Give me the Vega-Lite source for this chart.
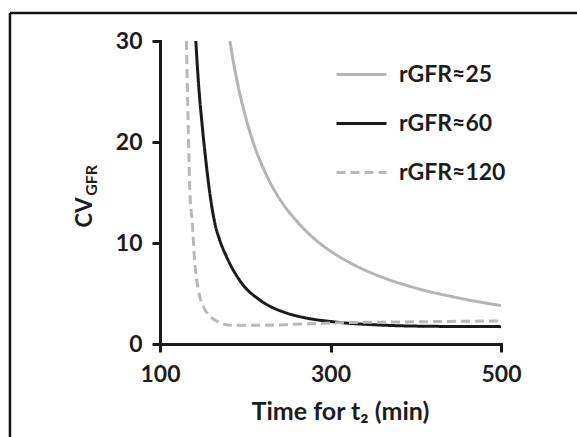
{
  "$schema": "https://vega.github.io/schema/vega-lite/v6.json",
  "width": 341,
  "height": 303,
  "autosize": {"type": "none"},
  "padding": {"left": 160, "top": 41, "right": 76, "bottom": 93},
  "background": "white",
  "config": {
    "view": {"stroke": null},
    "font": "Lato",
    "axis": {
      "grid": false,
      "domainColor": "#1a1a1a",
      "domainWidth": 3,
      "domainCap": "square",
      "tickColor": "#1a1a1a",
      "tickWidth": 3,
      "tickSize": 8,
      "labelFlush": false,
      "labelFont": "Lato",
      "labelFontWeight": "bold",
      "labelFontSize": 23,
      "labelColor": "#1d1d1d",
      "titleFont": "Lato",
      "titleFontWeight": "bold",
      "titleFontSize": 25,
      "titleColor": "#1d1d1d"
    },
    "legend": {
      "labelFont": "Lato",
      "labelFontWeight": "bold",
      "labelFontSize": 23,
      "labelColor": "#1d1d1d"
    }
  },
  "datasets": {
    "curves": [
      {"t": 182, "cv": 30, "s": "rGFR≈25"},
      {"t": 186, "cv": 27.97, "s": "rGFR≈25"},
      {"t": 190, "cv": 26.2, "s": "rGFR≈25"},
      {"t": 200, "cv": 22.6, "s": "rGFR≈25"},
      {"t": 210, "cv": 19.8, "s": "rGFR≈25"},
      {"t": 225, "cv": 16.7, "s": "rGFR≈25"},
      {"t": 240, "cv": 14.4, "s": "rGFR≈25"},
      {"t": 260, "cv": 12.2, "s": "rGFR≈25"},
      {"t": 280, "cv": 10.5, "s": "rGFR≈25"},
      {"t": 300, "cv": 9.2, "s": "rGFR≈25"},
      {"t": 330, "cv": 7.73, "s": "rGFR≈25"},
      {"t": 360, "cv": 6.63, "s": "rGFR≈25"},
      {"t": 400, "cv": 5.54, "s": "rGFR≈25"},
      {"t": 450, "cv": 4.56, "s": "rGFR≈25"},
      {"t": 500, "cv": 3.8, "s": "rGFR≈25"},
      {"t": 142, "cv": 30, "s": "rGFR≈60"},
      {"t": 145, "cv": 26, "s": "rGFR≈60"},
      {"t": 150, "cv": 21.2, "s": "rGFR≈60"},
      {"t": 154, "cv": 18, "s": "rGFR≈60"},
      {"t": 158, "cv": 15.2, "s": "rGFR≈60"},
      {"t": 164.5, "cv": 11.9, "s": "rGFR≈60"},
      {"t": 170, "cv": 10.3, "s": "rGFR≈60"},
      {"t": 178, "cv": 8.65, "s": "rGFR≈60"},
      {"t": 196, "cv": 6.0, "s": "rGFR≈60"},
      {"t": 217, "cv": 4.36, "s": "rGFR≈60"},
      {"t": 249, "cv": 3.05, "s": "rGFR≈60"},
      {"t": 270, "cv": 2.6, "s": "rGFR≈60"},
      {"t": 303, "cv": 2.2, "s": "rGFR≈60"},
      {"t": 358, "cv": 1.88, "s": "rGFR≈60"},
      {"t": 420, "cv": 1.75, "s": "rGFR≈60"},
      {"t": 500, "cv": 1.72, "s": "rGFR≈60"},
      {"t": 131, "cv": 30, "s": "rGFR≈120"},
      {"t": 133, "cv": 22, "s": "rGFR≈120"},
      {"t": 135, "cv": 15.2, "s": "rGFR≈120"},
      {"t": 138, "cv": 11.9, "s": "rGFR≈120"},
      {"t": 140.3, "cv": 8.65, "s": "rGFR≈120"},
      {"t": 145, "cv": 5.35, "s": "rGFR≈120"},
      {"t": 151, "cv": 3.7, "s": "rGFR≈120"},
      {"t": 158, "cv": 2.8, "s": "rGFR≈120"},
      {"t": 164, "cv": 2.4, "s": "rGFR≈120"},
      {"t": 173, "cv": 2.0, "s": "rGFR≈120"},
      {"t": 185, "cv": 1.85, "s": "rGFR≈120"},
      {"t": 217, "cv": 1.85, "s": "rGFR≈120"},
      {"t": 276, "cv": 2.0, "s": "rGFR≈120"},
      {"t": 311, "cv": 2.1, "s": "rGFR≈120"},
      {"t": 400, "cv": 2.2, "s": "rGFR≈120"},
      {"t": 500, "cv": 2.28, "s": "rGFR≈120"}
    ],
    "sub": [{"t": 20, "cv": 16.2, "label": "GFR"}],
    "frameTop": [{"t": -76, "t2": 600, "cv": 32.77}],
    "frameLeft": [{"t": -76, "cv": 32.77, "cv2": -12}]
  },
  "layer": [
    {
      "data": {"name": "curves"},
      "mark": {"type": "line", "interpolate": "monotone", "strokeWidth": 3},
      "encoding": {
        "x": {
          "field": "t", "type": "quantitative",
          "scale": {"domain": [100, 500], "nice": false, "zero": false},
          "axis": {"values": [100, 300, 500], "title": "Time for t₂ (min)", "labelPadding": 11, "titlePadding": 13, "titleX": 180}
        },
        "y": {
          "field": "cv", "type": "quantitative",
          "scale": {"domain": [0, 30], "nice": false},
          "axis": {"values": [0, 10, 20, 30], "title": "CV", "titleAngle": 270, "titleFontSize": 22, "labelPadding": 10, "titlePadding": 19, "titleY": 171}
        },
        "color": {
          "field": "s", "type": "nominal",
          "scale": {"domain": ["rGFR≈25", "rGFR≈60", "rGFR≈120"], "range": ["#b4b4b4", "#1a1a1a", "#b8b8bc"]},
          "legend": {
            "title": null, "orient": "none", "legendX": 175, "legendY": 7,
            "symbolType": "stroke", "symbolSize": 2500, "symbolStrokeWidth": 3,
            "rowPadding": 10, "labelOffset": 11, "padding": 0
          }
        },
        "strokeDash": {
          "field": "s", "type": "nominal",
          "scale": {"domain": ["rGFR≈25", "rGFR≈60", "rGFR≈120"], "range": [[1, 0], [1, 0], [9, 5]]},
          "legend": null
        },
        "order": {"field": "t", "type": "quantitative"}
      }
    },
    {
      "data": {"name": "sub"},
      "mark": {"type": "text", "angle": 270, "align": "center", "baseline": "middle", "font": "Lato", "fontWeight": "bold", "fontSize": 16, "color": "#1d1d1d"},
      "encoding": {
        "x": {"field": "t", "type": "quantitative"},
        "y": {"field": "cv", "type": "quantitative"},
        "text": {"field": "label"}
      }
    },
    {
      "data": {"name": "frameTop"},
      "mark": {"type": "rule", "strokeWidth": 2.5, "color": "#111111"},
      "encoding": {
        "x": {"field": "t", "type": "quantitative"},
        "x2": {"field": "t2"},
        "y": {"field": "cv", "type": "quantitative"}
      }
    },
    {
      "data": {"name": "frameLeft"},
      "mark": {"type": "rule", "strokeWidth": 2.5, "color": "#111111"},
      "encoding": {
        "x": {"field": "t", "type": "quantitative"},
        "y": {"field": "cv", "type": "quantitative"},
        "y2": {"field": "cv2"}
      }
    }
  ]
}
